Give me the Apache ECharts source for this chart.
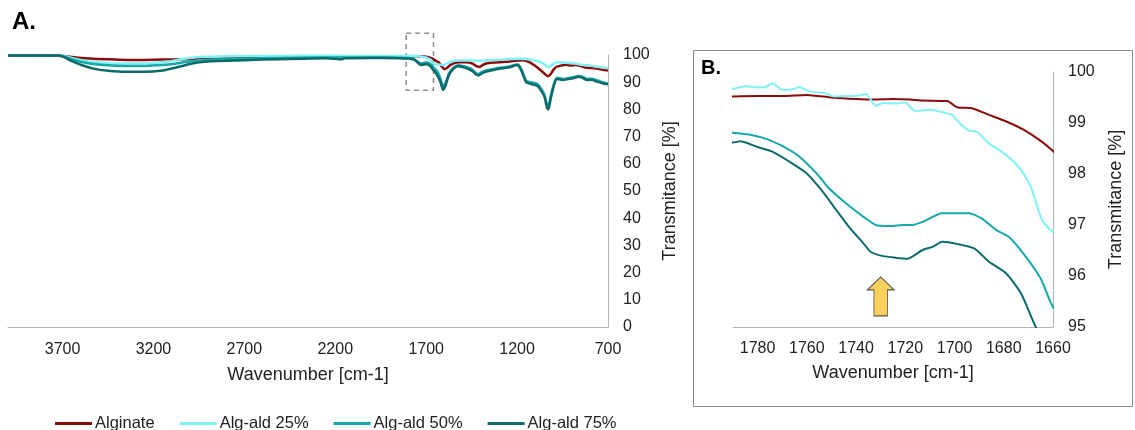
<!DOCTYPE html>
<html>
<head>
<meta charset="utf-8">
<script src="https://cdn.jsdelivr.net/npm/echarts@6/dist/echarts.min.js"></script>
<style>
  html, body { margin: 0; padding: 0; background: #fff; }
  #chart { width: 1135px; height: 430px; }
</style>
</head>
<body>
<div id="chart"></div>
<script>
// FTIR spectra, [wavenumber, transmittance]
const alginate = [
  [4000, 99.8], [3850, 99.8], [3720, 99.7], [3680, 99.5], [3620, 99.1], [3550, 98.7],
  [3450, 98.4], [3350, 98.2], [3250, 98.2], [3150, 98.3], [3050, 98.4], [2950, 98.5],
  [2800, 98.7], [2600, 98.9], [2450, 99.1], [2300, 99.3], [2150, 99.4], [2000, 99.4],
  [1900, 99.4], [1840, 99.4],
  [1800, 99.45], [1790, 99.52], [1780, 99.53], [1770, 99.53], [1760, 99.55], [1750, 99.5],
  [1740, 99.47], [1733, 99.46], [1725, 99.47], [1718, 99.46], [1713, 99.44], [1703, 99.43],
  [1699, 99.31], [1693, 99.29], [1686, 99.16], [1679, 99.03], [1672, 98.87], [1665, 98.65],
  [1660, 98.45],
  [1650, 98.0], [1630, 97.3], [1615, 95.8], [1600, 94.8], [1590, 95.0], [1570, 96.2],
  [1545, 97.0], [1520, 97.3], [1480, 97.3], [1445, 96.8], [1420, 95.8], [1405, 95.6],
  [1390, 96.3], [1370, 96.9], [1330, 97.2], [1280, 97.4], [1240, 97.6], [1200, 98.0],
  [1170, 98.1], [1130, 97.3], [1090, 95.5], [1060, 93.8], [1040, 92.6], [1030, 92.2],
  [1015, 93.0], [1000, 94.6], [985, 95.6], [960, 96.1], [930, 96.4], [900, 96.1],
  [880, 96.3], [850, 95.9], [820, 95.3], [790, 95.2], [760, 95.0], [730, 94.6], [700, 94.3]
];
const algAld25 = [
  [4000, 99.9], [3720, 99.9], [3680, 99.5], [3630, 98.6], [3580, 97.8], [3500, 97.2],
  [3420, 96.9], [3320, 96.9], [3220, 97.0], [3120, 97.6], [3050, 98.4], [2980, 99.1],
  [2900, 99.4], [2700, 99.6], [2400, 99.7], [2200, 99.7], [2000, 99.6], [1850, 99.6],
  [1800, 99.6], [1790, 99.67], [1785, 99.72], [1780, 99.7], [1777, 99.7], [1774, 99.78],
  [1770, 99.65], [1767, 99.65], [1763, 99.7], [1759, 99.62], [1753, 99.59], [1749, 99.52],
  [1744, 99.53], [1740, 99.53], [1736, 99.57], [1732, 99.34], [1729, 99.39], [1724, 99.38],
  [1720, 99.4], [1716, 99.23], [1710, 99.26], [1703, 99.19], [1701, 99.16], [1698, 99.0],
  [1694, 98.85], [1691, 98.83], [1686, 98.6], [1679, 98.37], [1673, 98.08], [1669, 97.75],
  [1665, 97.16], [1663, 97.0], [1660, 96.87],
  [1650, 96.6], [1620, 96.4], [1605, 96.3], [1590, 96.8], [1560, 97.6], [1530, 98.0],
  [1480, 98.0], [1430, 97.9], [1400, 97.9], [1350, 98.1], [1280, 98.3], [1230, 98.5],
  [1180, 98.6], [1120, 98.2], [1080, 97.6], [1050, 96.6], [1030, 95.6], [1015, 95.9],
  [1000, 96.8], [980, 97.3], [950, 97.2], [920, 97.1], [880, 96.9], [850, 96.4],
  [820, 96.3], [780, 95.9], [740, 95.5], [700, 95.1]
];
const algAld50 = [
  [4000, 99.8], [3720, 99.8], [3690, 99.4], [3650, 98.5], [3600, 97.5], [3530, 96.7],
  [3450, 96.2], [3350, 96.0], [3250, 96.0], [3150, 96.3], [3080, 96.8], [3000, 97.7],
  [2920, 98.2], [2800, 98.5], [2600, 98.8], [2400, 99.0], [2200, 99.1], [2000, 99.1],
  [1850, 99.0],
  [1800, 98.9], [1790, 98.81], [1783, 98.77], [1776, 98.68], [1770, 98.55], [1763, 98.34],
  [1756, 98.01], [1751, 97.72], [1744, 97.42], [1737, 97.16], [1732, 97.0], [1726, 96.98],
  [1721, 97.0], [1717, 97.0], [1713, 97.06], [1705, 97.23], [1699, 97.23], [1694, 97.23],
  [1689, 97.13], [1683, 96.9], [1678, 96.77], [1672, 96.44], [1665, 95.95], [1660, 95.39],
  [1650, 94.8], [1635, 93.5], [1620, 91.0], [1608, 88.4], [1595, 89.5], [1575, 93.2],
  [1550, 95.3], [1525, 96.2], [1500, 96.0], [1470, 95.4], [1445, 94.6], [1425, 93.3],
  [1412, 93.0], [1395, 93.7], [1370, 94.3], [1330, 94.9], [1280, 95.4], [1240, 95.8],
  [1210, 96.4], [1195, 96.5], [1175, 94.6], [1150, 90.5], [1120, 89.9], [1090, 89.4],
  [1070, 87.8], [1050, 85.5], [1035, 81.5], [1028, 81.0], [1015, 85.0], [995, 89.8],
  [980, 91.6], [960, 91.4], [945, 91.1], [920, 91.5], [895, 91.8], [860, 92.3],
  [840, 92.0], [815, 91.2], [790, 91.3], [760, 90.7], [730, 90.0], [700, 89.5]
];
const algAld75 = [
  [4000, 99.8], [3720, 99.8], [3690, 99.2], [3650, 97.8], [3600, 96.4], [3530, 95.0],
  [3450, 94.2], [3350, 93.8], [3250, 93.8], [3150, 94.3], [3080, 95.3], [3000, 96.7],
  [2920, 97.5], [2800, 97.9], [2600, 98.3], [2400, 98.6], [2250, 98.8], [2160, 98.4],
  [2150, 98.8], [2000, 98.9], [1850, 98.8],
  [1800, 98.7], [1790, 98.62], [1787, 98.64], [1780, 98.53], [1774, 98.44], [1767, 98.24],
  [1760, 98.01], [1753, 97.62], [1748, 97.29], [1743, 96.97], [1737, 96.64], [1734, 96.47],
  [1729, 96.39], [1724, 96.36], [1719, 96.34], [1713, 96.51], [1709, 96.57], [1705, 96.67],
  [1699, 96.63], [1692, 96.54], [1686, 96.28], [1679, 96.05], [1673, 95.66], [1667, 95.0],
  [1660, 94.4],
  [1650, 93.6], [1635, 92.0], [1620, 89.8], [1608, 87.2], [1595, 88.5], [1575, 92.6],
  [1550, 94.9], [1525, 95.9], [1500, 95.6], [1470, 94.9], [1445, 94.0], [1425, 92.8],
  [1412, 92.5], [1395, 93.2], [1370, 93.9], [1330, 94.5], [1280, 95.1], [1240, 95.5],
  [1210, 96.2], [1195, 96.3], [1175, 94.0], [1150, 90.0], [1120, 89.3], [1090, 88.7],
  [1070, 87.1], [1050, 84.8], [1035, 80.5], [1028, 80.0], [1015, 84.0], [995, 89.4],
  [980, 91.2], [960, 91.0], [945, 90.8], [920, 91.2], [895, 91.4], [860, 92.0],
  [840, 91.6], [815, 90.8], [790, 90.9], [760, 90.2], [730, 89.6], [700, 89.2]
];

const seriesNames = ["Alginate", "Alg-ald 25%", "Alg-ald 50%", "Alg-ald 75%"];
const seriesColors = ["#8B0A0A", "#80F2F6", "#16A8A8", "#0B6B6B"];
const ticksA = [700, 1200, 1700, 2200, 2700, 3200, 3700];
const ticksB = [1660, 1680, 1700, 1720, 1740, 1760, 1780];
// zoomed window shown in panel B (marked on panel A as a dashed box)
const zoomBoxX = [1810, 1660];
const zoomBoxY = [87, 108];
const arrowAt = [1730, 95.6];

const FONT = "Liberation Sans";
const axisGrey = "#b5b5b5";
const chart = echarts.init(document.getElementById("chart"));

function xAxisFor(idx, min, max, interval, ticks, labelGap, nameGap) {
  return {
    type: "value", gridIndex: idx, inverse: true,
    min: min, max: max, interval: interval,
    name: "Wavenumber [cm-1]", nameLocation: "middle", nameGap: nameGap,
    nameTextStyle: { fontFamily: FONT, fontSize: 18, color: "#222" },
    axisLine: { show: true, lineStyle: { color: axisGrey, width: 1 } },
    axisTick: { show: false },
    splitLine: { show: false },
    axisLabel: {
      margin: labelGap, fontFamily: FONT, fontSize: 16, color: "#222",
      formatter: v => (ticks.indexOf(v) >= 0 ? String(v) : "")
    }
  };
}

function yAxisFor(idx, min, max, interval, gap) {
  return {
    type: "value", gridIndex: idx, position: "right",
    min: min, max: max, interval: interval,
    name: "Transmitance [%]", nameLocation: "middle", nameGap: gap,
    nameTextStyle: { fontFamily: FONT, fontSize: 18, color: "#222" },
    axisLine: { show: true, lineStyle: { color: axisGrey, width: 1 } },
    axisTick: { show: false },
    splitLine: { show: false },
    axisLabel: { margin: 15, fontFamily: FONT, fontSize: 16, color: "#222" }
  };
}

const allData = [alginate, algAld25, algAld50, algAld75];
const series = [];
// dashed outline of the zoomed window, partly above the plot top
series.push({
  name: "zoom", type: "line", xAxisIndex: 0, yAxisIndex: 0,
  data: [
    [zoomBoxX[0], zoomBoxY[1]], [zoomBoxX[1], zoomBoxY[1]],
    [zoomBoxX[1], zoomBoxY[0]], [zoomBoxX[0], zoomBoxY[0]],
    [zoomBoxX[0], zoomBoxY[1]]
  ],
  showSymbol: false, clip: false, silent: true,
  lineStyle: { width: 1.5, color: "#8c8c8c", type: [5, 4] },
  z: 1
});
allData.forEach((d, i) => {
  series.push({
    name: seriesNames[i], type: "line", xAxisIndex: 0, yAxisIndex: 0,
    data: d, showSymbol: false, smooth: 0.2,
    lineStyle: { width: 2.5, color: seriesColors[i] },
    itemStyle: { color: seriesColors[i] },
    z: 2 + i
  });
});
allData.forEach((d, i) => {
  const s = {
    name: seriesNames[i], type: "line", xAxisIndex: 1, yAxisIndex: 1,
    data: d, showSymbol: false, smooth: 0.2, clip: true,
    lineStyle: { width: 2, color: seriesColors[i] },
    itemStyle: { color: seriesColors[i] },
    z: 2 + i
  };
  if (i === 3) {
    s.markPoint = {
      silent: true,
      symbol: "path://M0,12 L12,0 L24,12 L18,12 L18,36 L6,36 L6,12 Z",
      symbolSize: [27, 39],
      itemStyle: { color: "#FFD15C", borderColor: "#555", borderWidth: 1 },
      label: { show: false },
      data: [{ coord: arrowAt }]
    };
  }
  series.push(s);
});

chart.setOption({
  animation: false,
  backgroundColor: "#fff",
  textStyle: { fontFamily: FONT },
  graphic: [
    { type: "rect", shape: { x: 693.5, y: 50.5, width: 439, height: 356 },
      style: { fill: "none", stroke: "#8c8c8c", lineWidth: 1 }, z: 0 },
    { type: "text", left: 12, top: 10,
      style: { text: "A.", fontFamily: FONT, fontSize: 24, fontWeight: "bold", fill: "#000" } },
    { type: "text", left: 701, top: 58,
      style: { text: "B.", fontFamily: FONT, fontSize: 20, fontWeight: "bold", fill: "#000" } }
  ],
  legend: {
    data: seriesNames,
    left: 50, top: 410,
    icon: "rect", itemWidth: 37, itemHeight: 3, itemGap: 25,
    textStyle: { fontFamily: FONT, fontSize: 16.5, color: "#222", padding: [0, 0, 0, -2] }
  },
  grid: [
    { left: 8, top: 55, width: 600, height: 272 },
    { left: 733, top: 72, width: 320, height: 255 }
  ],
  xAxis: [
    xAxisFor(0, 700, 4000, 500, ticksA, 15, 39),
    xAxisFor(1, 1660, 1790, 20, ticksB, 14, 37)
  ],
  yAxis: [
    yAxisFor(0, 0, 100, 10, 51),
    yAxisFor(1, 95, 100, 1, 54)
  ],
  series: series
});
</script>
</body>
</html>
